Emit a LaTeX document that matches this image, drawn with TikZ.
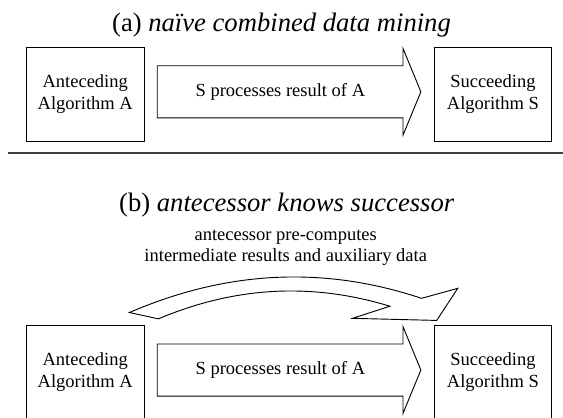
\documentclass[tikz,border=0pt]{standalone}
\usepackage{fontspec}
\setmainfont{Liberation Serif}
\usetikzlibrary{positioning,calc}

\begin{document}
\begin{tikzpicture}[line width=0.5pt,
  algbox/.style={draw, minimum width=2.24cm, minimum height=1.79cm,
    align=center, font=\fontsize{10}{11.7}\selectfont},
  bodytext/.style={font=\fontsize{10}{11.3}\selectfont},
  headline/.style={font=\fontsize{14.4}{17}\selectfont, anchor=base}]
\useasboundingbox (0,0) rectangle (10.70,7.94);

% (a) naive
\node[headline] (titleA) at (5.35,7.34) {(a) \textit{naïve combined data mining}};
\node[algbox] (anteA) at (1.62,6.15) {Anteceding\\Algorithm A};
\node[algbox, right=5.49cm of anteA] (succA) {Succeeding\\Algorithm S};
\draw[line width=1pt, black!75] (0.16,5.03) -- (10.70,5.03);

% (b) antecessor knows successor
\node[headline] (titleB) at (5.45,3.92) {(b) \textit{antecessor knows successor}};
\node[bodytext, align=center] (note) at (5.43,3.23)
  {antecessor pre-computes\\intermediate results and auxiliary data};
\node[algbox, below=3.48cm of anteA] (anteB) {Anteceding\\Algorithm A};
\node[algbox, right=5.49cm of anteB] (succB) {Succeeding\\Algorithm S};

% block arrows
\foreach \a/\s in {anteA/succA, anteB/succB} {
  \draw ($(\a.east)+(0.24,0.54)$) -- ($(\s.west)+(-0.58,0.54)$)
    -- ($(\s.west)+(-0.58,0.87)$) -- ($(\s.west)+(-0.24,0.045)$)
    -- ($(\s.west)+(-0.58,-0.78)$) -- ($(\s.west)+(-0.58,-0.45)$)
    -- ($(\a.east)+(0.24,-0.45)$) -- cycle;
  \node[bodytext] (proc-\a) at ($(\a.east)+(2.58,0.045)$) {S processes result of A};
}

% bent arrow
\draw (2.46,2.00) .. controls (4.31,2.80) and (6.16,2.89) .. (8.01,2.27)
  -- (8.70,2.46) -- (8.30,1.85) -- (6.70,1.89) -- (7.41,2.12)
  .. controls (5.94,2.57) and (4.48,2.50) .. (3.01,1.88) -- cycle;
\end{tikzpicture}
\end{document}
